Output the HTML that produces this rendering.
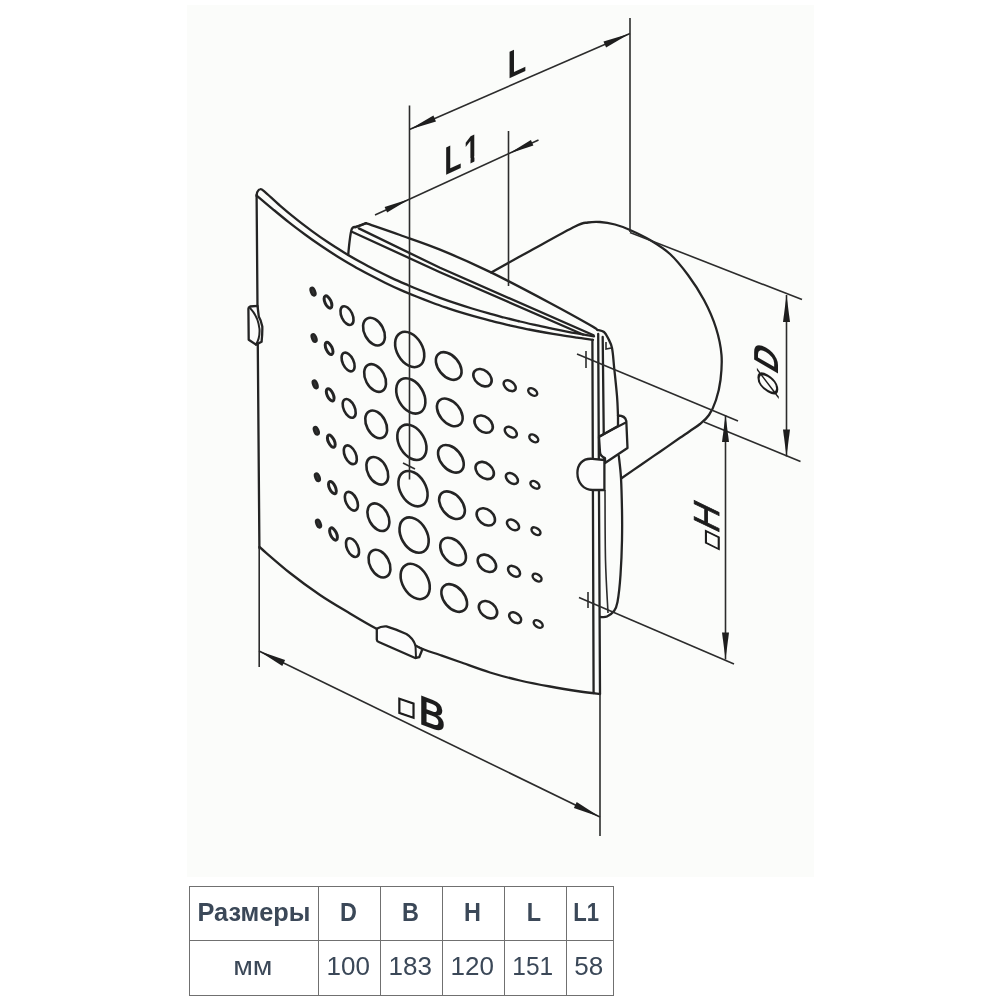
<!DOCTYPE html>
<html><head><meta charset="utf-8"><title>Размеры</title>
<style>
html,body{margin:0;padding:0;background:#fff;}
body{width:1000px;height:1000px;position:relative;overflow:hidden;font-family:"Liberation Sans",sans-serif;}
#draw{position:absolute;left:187px;top:5px;width:627px;height:872px;background:#fbfcfa;}
#art{position:absolute;left:0;top:0;width:1000px;height:1000px;filter:grayscale(1) blur(0.45px)}
#tw{position:absolute;left:188.5px;top:886.2px;will-change:transform}
table{border-collapse:collapse;color:#3b4858;font-size:26px;table-layout:fixed;}
td{border:1px solid #707070;padding:0;text-align:center;white-space:nowrap;overflow:hidden}
tr.h td{font-weight:bold;height:53px;line-height:51px}
tr.v td{height:54px;line-height:51px}
td span{display:inline-block;transform:scaleX(0.9);position:relative;top:-1.2px;left:-1.2px}
tr.v td span{top:-2px;transform:none}
</style></head><body>
<div id="draw"></div>
<div id="art">
<svg width="1000" height="1000" viewBox="0 0 1000 1000">
<g fill="none" stroke="#242424" stroke-width="2.3" stroke-linecap="round" stroke-linejoin="round">
<path d="M256.6 196.0 C256.7 195.3 256.7 193.1 257.3 192.0 C257.9 190.9 259.2 189.3 260.3 189.2 C261.4 189.0 260.7 188.4 264.0 191.1 C267.3 193.8 274.7 201.0 280.0 205.6 C285.3 210.2 290.7 214.7 296.0 218.9 C301.3 223.2 306.7 227.2 312.0 231.1 C317.3 235.0 322.7 238.8 328.0 242.3 C333.3 245.9 338.7 249.2 344.0 252.4 C349.3 255.7 354.7 258.8 360.0 261.8 C365.3 264.8 370.7 267.6 376.0 270.3 C381.3 273.0 386.7 275.6 392.0 278.1 C397.3 280.6 402.7 282.9 408.0 285.2 C413.3 287.5 418.7 289.7 424.0 291.8 C429.3 293.9 434.7 295.9 440.0 297.8 C445.3 299.7 450.7 301.6 456.0 303.4 C461.3 305.2 466.7 306.9 472.0 308.5 C477.3 310.1 482.7 311.7 488.0 313.2 C493.3 314.7 498.7 316.1 504.0 317.5 C509.3 318.9 514.7 320.2 520.0 321.5 C525.3 322.8 530.7 324.0 536.0 325.2 C541.3 326.4 546.7 327.5 552.0 328.6 C557.3 329.7 562.7 330.8 568.0 331.8 C573.3 332.8 579.7 333.8 584.0 334.6 C588.3 335.4 592.3 336.1 594.0 336.4"/>
<path d="M257.0 195.8 C259.7 198.1 267.7 204.9 273.0 209.3 C278.3 213.7 283.7 218.2 289.0 222.4 C294.3 226.6 299.7 230.6 305.0 234.5 C310.3 238.4 315.7 242.2 321.0 245.8 C326.3 249.4 331.7 252.9 337.0 256.2 C342.3 259.5 347.7 262.7 353.0 265.8 C358.3 268.9 363.7 271.8 369.0 274.6 C374.3 277.4 379.7 280.1 385.0 282.7 C390.3 285.3 395.7 287.8 401.0 290.1 C406.3 292.5 411.7 294.7 417.0 296.8 C422.3 298.9 427.7 301.0 433.0 303.0 C438.3 305.0 443.7 306.8 449.0 308.6 C454.3 310.4 459.7 312.1 465.0 313.7 C470.3 315.3 475.7 316.8 481.0 318.2 C486.3 319.6 491.7 321.1 497.0 322.4 C502.3 323.7 507.7 324.9 513.0 326.1 C518.3 327.3 523.7 328.4 529.0 329.5 C534.3 330.6 539.7 331.6 545.0 332.5 C550.3 333.4 555.7 334.3 561.0 335.2 C566.3 336.1 571.7 336.9 577.0 337.7 C582.3 338.5 590.3 339.5 593.0 339.9"/>
<path d="M256.6 195.0 L259.4 548.0"/>
<path d="M259.4 547.0 C264.5 551.3 279.9 565.0 290.0 573.0 C300.1 581.0 310.0 588.2 320.0 595.0 C330.0 601.8 340.5 607.8 350.0 613.5 C359.5 619.2 368.7 624.7 377.0 629.0 C385.3 633.3 392.2 636.1 400.0 639.5 C407.8 642.9 417.3 646.9 424.0 649.5 C430.7 652.1 434.0 652.9 440.0 655.0 C446.0 657.1 451.7 659.1 460.0 662.0 C468.3 664.9 480.0 669.4 490.0 672.5 C500.0 675.6 510.0 678.2 520.0 680.5 C530.0 682.8 540.0 684.7 550.0 686.5 C560.0 688.3 571.7 690.2 580.0 691.5 C588.3 692.8 596.7 693.6 600.0 694.0"/>
<path d="M592.4 340.0 L593.6 693.0"/>
<path d="M598.2 334.0 L600.0 694.0"/>
<path d="M602.7 337.0 L604.0 459.0"/>
<path d="M348.2 255.0 C348.4 252.8 349.0 246.1 349.5 242.0 C350.0 237.9 350.7 232.9 351.3 230.5 C351.9 228.1 352.1 228.2 353.0 227.5 C353.9 226.8 354.8 227.2 357.0 226.5 C359.2 225.8 364.5 223.8 366.0 223.2"/>
<path d="M366.0 223.2 C371.7 225.2 387.7 230.6 400.0 235.0 C412.3 239.4 424.8 243.4 440.0 249.6 C455.2 255.8 472.7 263.5 491.0 272.4 C509.3 281.3 533.5 294.2 550.0 303.0 C566.5 311.8 582.1 320.5 590.0 325.0 C597.9 329.5 596.3 329.2 597.6 330.0"/>
<path d="M358.8 228.4 L440.0 267.8 L593.6 335.2"/>
<path d="M352.4 232.0 L440.0 272.2 L583.0 334.5"/>
<path d="M355.0 227.3 L366.0 223.2"/>
<path d="M597.6 330.0 C598.7 330.3 602.3 330.7 604.0 332.0 C605.7 333.3 606.7 335.3 608.0 338.0 C609.3 340.7 611.0 343.3 612.0 348.0 C613.0 352.7 613.2 358.0 614.0 366.0 C614.8 374.0 616.3 387.7 617.0 396.0 C617.7 404.3 617.8 412.7 618.0 416.0"/>
<path d="M618.8 456.0 C619.2 459.7 620.5 469.0 621.0 478.0 C621.5 487.0 621.8 499.7 622.0 510.0 C622.2 520.3 622.2 529.2 622.0 540.0 C621.8 550.8 621.2 564.7 620.5 575.0 C619.8 585.3 618.6 596.0 617.5 602.0 C616.4 608.0 615.8 608.6 614.0 611.0 C612.2 613.4 609.2 615.5 607.0 616.5 C604.8 617.5 601.6 616.9 600.5 617.0"/>
<path d="M491.2 272.4 C497.7 268.8 516.0 258.6 530.0 251.0 C544.0 243.3 565.3 231.2 575.0 226.5 C584.7 221.8 583.8 223.2 588.0 222.5 C592.2 221.8 595.5 221.7 600.0 222.0 C604.5 222.3 610.0 223.2 615.0 224.5 C620.0 225.8 624.2 227.4 630.0 230.0 C635.8 232.6 643.3 236.0 650.0 240.0 C656.7 244.0 663.7 248.2 670.0 254.0 C676.3 259.8 682.3 267.3 688.0 275.0 C693.7 282.7 699.3 291.2 704.0 300.0 C708.7 308.8 713.1 318.8 716.0 328.0 C718.9 337.2 720.8 346.3 721.5 355.0 C722.2 363.7 721.4 372.5 720.5 380.0 C719.6 387.5 717.9 394.2 716.0 400.0 C714.1 405.8 711.7 411.0 709.0 415.0 C706.3 419.0 703.2 421.3 700.0 424.0 C696.8 426.7 693.3 428.7 690.0 431.0 C686.7 433.3 685.0 434.4 680.0 437.8 C675.0 441.2 666.7 447.1 660.0 451.7 C653.3 456.3 646.4 461.1 640.0 465.5 C633.6 469.9 624.6 476.2 621.5 478.3"/>
</g>
<g fill="none" stroke="#242424" stroke-width="2.6">
<ellipse cx="313.0" cy="291.6" rx="2.0" ry="4.0" stroke-width="2.4" transform="rotate(-22 313.0 291.6)" fill="#333"/>
<ellipse cx="328.0" cy="302.0" rx="3.0" ry="6.6" stroke-width="3.0" transform="rotate(-25 328.0 302.0)"/>
<ellipse cx="347.0" cy="315.6" rx="5.5" ry="10.0" stroke-width="2.6" transform="rotate(-25 347.0 315.6)"/>
<ellipse cx="374.0" cy="331.6" rx="9.6" ry="14.8" stroke-width="2.6" transform="rotate(-28 374.0 331.6)"/>
<ellipse cx="409.7" cy="349.5" rx="12.8" ry="19.0" stroke-width="2.6" transform="rotate(-30 409.7 349.5)"/>
<ellipse cx="448.7" cy="366.0" rx="10.3" ry="15.8" stroke-width="2.6" transform="rotate(-40 448.7 366.0)"/>
<ellipse cx="482.5" cy="377.7" rx="7.3" ry="10.3" stroke-width="2.6" transform="rotate(-50 482.5 377.7)"/>
<ellipse cx="509.7" cy="385.7" rx="4.4" ry="6.8" stroke-width="2.5" transform="rotate(-52 509.7 385.7)"/>
<ellipse cx="532.7" cy="392.0" rx="3.1" ry="5.0" stroke-width="2.5" transform="rotate(-55 532.7 392.0)"/>
<ellipse cx="314.1" cy="338.0" rx="2.0" ry="4.0" stroke-width="2.4" transform="rotate(-22 314.1 338.0)" fill="#333"/>
<ellipse cx="329.1" cy="348.4" rx="3.0" ry="6.6" stroke-width="3.0" transform="rotate(-25 329.1 348.4)"/>
<ellipse cx="348.1" cy="362.0" rx="5.5" ry="10.0" stroke-width="2.6" transform="rotate(-25 348.1 362.0)"/>
<ellipse cx="375.1" cy="378.0" rx="9.6" ry="14.8" stroke-width="2.6" transform="rotate(-28 375.1 378.0)"/>
<ellipse cx="410.8" cy="395.9" rx="12.8" ry="19.0" stroke-width="2.6" transform="rotate(-30 410.8 395.9)"/>
<ellipse cx="449.8" cy="412.4" rx="10.3" ry="15.8" stroke-width="2.6" transform="rotate(-40 449.8 412.4)"/>
<ellipse cx="483.6" cy="424.1" rx="7.3" ry="10.3" stroke-width="2.6" transform="rotate(-50 483.6 424.1)"/>
<ellipse cx="510.8" cy="432.1" rx="4.4" ry="6.8" stroke-width="2.5" transform="rotate(-52 510.8 432.1)"/>
<ellipse cx="533.8" cy="438.4" rx="3.1" ry="5.0" stroke-width="2.5" transform="rotate(-55 533.8 438.4)"/>
<ellipse cx="315.2" cy="384.4" rx="2.0" ry="4.0" stroke-width="2.4" transform="rotate(-22 315.2 384.4)" fill="#333"/>
<ellipse cx="330.2" cy="394.8" rx="3.0" ry="6.6" stroke-width="3.0" transform="rotate(-25 330.2 394.8)"/>
<ellipse cx="349.2" cy="408.4" rx="5.5" ry="10.0" stroke-width="2.6" transform="rotate(-25 349.2 408.4)"/>
<ellipse cx="376.2" cy="424.4" rx="9.6" ry="14.8" stroke-width="2.6" transform="rotate(-28 376.2 424.4)"/>
<ellipse cx="411.9" cy="442.3" rx="12.8" ry="19.0" stroke-width="2.6" transform="rotate(-30 411.9 442.3)"/>
<ellipse cx="450.9" cy="458.8" rx="10.3" ry="15.8" stroke-width="2.6" transform="rotate(-40 450.9 458.8)"/>
<ellipse cx="484.7" cy="470.5" rx="7.3" ry="10.3" stroke-width="2.6" transform="rotate(-50 484.7 470.5)"/>
<ellipse cx="511.9" cy="478.5" rx="4.4" ry="6.8" stroke-width="2.5" transform="rotate(-52 511.9 478.5)"/>
<ellipse cx="534.9" cy="484.8" rx="3.1" ry="5.0" stroke-width="2.5" transform="rotate(-55 534.9 484.8)"/>
<ellipse cx="316.3" cy="430.8" rx="2.0" ry="4.0" stroke-width="2.4" transform="rotate(-22 316.3 430.8)" fill="#333"/>
<ellipse cx="331.3" cy="441.2" rx="3.0" ry="6.6" stroke-width="3.0" transform="rotate(-25 331.3 441.2)"/>
<ellipse cx="350.3" cy="454.8" rx="5.5" ry="10.0" stroke-width="2.6" transform="rotate(-25 350.3 454.8)"/>
<ellipse cx="377.3" cy="470.8" rx="9.6" ry="14.8" stroke-width="2.6" transform="rotate(-28 377.3 470.8)"/>
<ellipse cx="413.0" cy="488.7" rx="12.8" ry="19.0" stroke-width="2.6" transform="rotate(-30 413.0 488.7)"/>
<ellipse cx="452.0" cy="505.2" rx="10.3" ry="15.8" stroke-width="2.6" transform="rotate(-40 452.0 505.2)"/>
<ellipse cx="485.8" cy="516.9" rx="7.3" ry="10.3" stroke-width="2.6" transform="rotate(-50 485.8 516.9)"/>
<ellipse cx="513.0" cy="524.9" rx="4.4" ry="6.8" stroke-width="2.5" transform="rotate(-52 513.0 524.9)"/>
<ellipse cx="536.0" cy="531.2" rx="3.1" ry="5.0" stroke-width="2.5" transform="rotate(-55 536.0 531.2)"/>
<ellipse cx="317.4" cy="477.2" rx="2.0" ry="4.0" stroke-width="2.4" transform="rotate(-22 317.4 477.2)" fill="#333"/>
<ellipse cx="332.4" cy="487.6" rx="3.0" ry="6.6" stroke-width="3.0" transform="rotate(-25 332.4 487.6)"/>
<ellipse cx="351.4" cy="501.2" rx="5.5" ry="10.0" stroke-width="2.6" transform="rotate(-25 351.4 501.2)"/>
<ellipse cx="378.4" cy="517.2" rx="9.6" ry="14.8" stroke-width="2.6" transform="rotate(-28 378.4 517.2)"/>
<ellipse cx="414.1" cy="535.1" rx="12.8" ry="19.0" stroke-width="2.6" transform="rotate(-30 414.1 535.1)"/>
<ellipse cx="453.1" cy="551.6" rx="10.3" ry="15.8" stroke-width="2.6" transform="rotate(-40 453.1 551.6)"/>
<ellipse cx="486.9" cy="563.3" rx="7.3" ry="10.3" stroke-width="2.6" transform="rotate(-50 486.9 563.3)"/>
<ellipse cx="514.1" cy="571.3" rx="4.4" ry="6.8" stroke-width="2.5" transform="rotate(-52 514.1 571.3)"/>
<ellipse cx="537.1" cy="577.6" rx="3.1" ry="5.0" stroke-width="2.5" transform="rotate(-55 537.1 577.6)"/>
<ellipse cx="318.5" cy="523.6" rx="2.0" ry="4.0" stroke-width="2.4" transform="rotate(-22 318.5 523.6)" fill="#333"/>
<ellipse cx="333.5" cy="534.0" rx="3.0" ry="6.6" stroke-width="3.0" transform="rotate(-25 333.5 534.0)"/>
<ellipse cx="352.5" cy="547.6" rx="5.5" ry="10.0" stroke-width="2.6" transform="rotate(-25 352.5 547.6)"/>
<ellipse cx="379.5" cy="563.6" rx="9.6" ry="14.8" stroke-width="2.6" transform="rotate(-28 379.5 563.6)"/>
<ellipse cx="415.2" cy="581.5" rx="12.8" ry="19.0" stroke-width="2.6" transform="rotate(-30 415.2 581.5)"/>
<ellipse cx="454.2" cy="598.0" rx="10.3" ry="15.8" stroke-width="2.6" transform="rotate(-40 454.2 598.0)"/>
<ellipse cx="488.0" cy="609.7" rx="7.3" ry="10.3" stroke-width="2.6" transform="rotate(-50 488.0 609.7)"/>
<ellipse cx="515.2" cy="617.7" rx="4.4" ry="6.8" stroke-width="2.5" transform="rotate(-52 515.2 617.7)"/>
<ellipse cx="538.2" cy="624.0" rx="3.1" ry="5.0" stroke-width="2.5" transform="rotate(-55 538.2 624.0)"/>
</g>
<g fill="none" stroke="#2c2c2c" stroke-width="1.6">
<path d="M605.0 490.0 C605.1 501.7 605.0 539.5 605.5 560.0 C606.0 580.5 607.6 604.2 608.0 613.0"/>
<path d="M606.0 342.0 L606.0 349.0 L611.4 348.0"/>
<path d="M409.5 105.5 L409.5 479.5"/>
<path d="M630.0 18.0 L630.0 232.0"/>
<path d="M409.5 129.5 L630.0 33.5"/>
<path d="M508.5 131.0 L508.5 286.0"/>
<path d="M375.0 215.0 L538.5 140.0"/>
<path d="M403.0 463.0 L415.0 469.0"/>
<path d="M630.0 232.4 L802.0 299.6"/>
<path d="M704.0 422.0 L800.5 461.6"/>
<path d="M786.5 295.0 L786.5 456.5"/>
<path d="M577.0 354.0 L738.0 421.0"/>
<path d="M579.0 597.6 L734.0 664.0"/>
<path d="M725.5 415.0 L725.5 659.5"/>
<path d="M586.0 351.0 L586.0 368.0"/>
<path d="M588.0 592.0 L588.0 608.0"/>
<path d="M259.2 548.0 L259.2 667.0"/>
<path d="M600.0 694.0 L600.0 836.0"/>
<path d="M259.0 651.0 L600.0 817.0"/>
</g>
<g fill="#fbfcfa" stroke="#242424" stroke-width="2.3" stroke-linecap="round" stroke-linejoin="round">
<path d="M599 437 L618 426 L618 415.5 Q625 415.5 626.3 421 L627.5 448 L605 463 L605 458 Q600 456 600 452 Z"/>
<path d="M592.4 458.8 C582 458 577.4 465 577.4 473 C577.4 483 584 490 592.4 490 L604.4 490 L604.4 460 Z"/>
<path d="M257.5 305.8 L250 306.5 Q248.3 307 248.4 309 L248.7 339.7 L256 344.6 L261.6 341.8 Q262.5 333 262.3 326.4 Q261 320 258.8 316.6 Z"/>
<path d="M376.8 628.8 Q381 626 386.4 626.4 L396 629.6 L406.4 634 Q413 638 415.5 645.5 L422.4 649.2 L419.2 657.2 L415.2 658 L378.8 642 Q377 641.5 376.8 639.6 Z"/>
</g>
<g fill="none" stroke="#242424" stroke-width="2" stroke-linecap="round" stroke-linejoin="round">
<path d="M599.0 436.5 L625.8 422.5"/>
<path d="M250 308 Q258 316 259.5 329 Q260 338 256 344.6"/>
<path d="M415.5 645.5 L416.0 657.6"/>
</g>
<g fill="#1e1e1e" stroke="none">
<path d="M409.5 129.5 L433.4 115.5 L436.0 121.5 Z"/>
<path d="M630.0 33.5 L606.1 47.5 L603.5 41.5 Z"/>
<path d="M409.5 199.0 L387.1 212.6 L384.6 207.1 Z"/>
<path d="M508.5 153.7 L530.9 140.1 L533.4 145.6 Z"/>
<path d="M786.5 295.0 L790.0 322.0 L783.0 322.0 Z"/>
<path d="M786.5 456.5 L783.0 429.5 L790.0 429.5 Z"/>
<path d="M725.5 415.0 L729.0 442.0 L722.0 442.0 Z"/>
<path d="M725.5 659.5 L722.0 632.5 L729.0 632.5 Z"/>
<path d="M259.0 651.0 L285.1 660.1 L282.3 666.0 Z"/>
<path d="M600.0 817.0 L573.9 807.9 L576.7 802.0 Z"/>
</g>
<g font-family="'Liberation Sans', sans-serif" font-weight="bold" fill="#1c1c1c">
<text transform="matrix(0.8 -0.37 0 1 507.5 79.3)" font-size="38.5">L</text>
<g transform="matrix(0.72 -0.33 0 1 444.2 175.5)"><text font-size="39.5">L<tspan dx="3.2">1</tspan></text><rect x="28.47" y="-5.38" width="8.08" height="6.88" fill="#fbfcfa"/><rect x="41.97" y="-5.38" width="7.58" height="6.88" fill="#fbfcfa"/></g>
<text transform="matrix(0.88 0.33 0 1 418.7 723.5)" font-size="42">B</text>
<text transform="matrix(1 0.34 0 1 397 710.3)" font-size="20" stroke="#1c1c1c" stroke-width="1.1" font-family="'DejaVu Sans', sans-serif">□</text>
<text transform="matrix(0 -0.885 1 0.58 777.9 399.5)" font-size="34.7"><tspan font-weight="normal" font-size="29.5">Ø</tspan><tspan dx="4.3">D</tspan></text>
<text transform="matrix(0 -0.96 1 0.48 719 534.5)" font-size="36" font-weight="normal" stroke="#1c1c1c" stroke-width="0.9">H</text>
<text transform="matrix(0 -0.93 1 0.5 716.8 550.3)" font-size="18" stroke="#1c1c1c" stroke-width="1.1" font-family="'DejaVu Sans', sans-serif">□</text>
</g>
</svg>
</div>
<div id="tw"><table>
<colgroup><col style="width:129px"><col style="width:62px"><col style="width:62px"><col style="width:62px"><col style="width:62px"><col style="width:47px"></colgroup>
<tr class="h"><td><span style="transform:scaleX(0.975);left:-0.5px">Размеры</span></td><td><span>D</span></td><td><span>B</span></td><td><span>H</span></td><td><span style="left:-1.6px">L</span></td><td><span style="transform:scaleX(0.85);left:-3.5px">L1</span></td></tr>
<tr class="v"><td><span style="top:-1.5px;left:-0.8px;transform:scaleX(1.1)">мм</span></td><td><span>100</span></td><td><span>183</span></td><td><span>120</span></td><td><span style="transform:scaleX(0.94);left:-2.5px">151</span></td><td><span>58</span></td></tr>
</table></div>
</body></html>
